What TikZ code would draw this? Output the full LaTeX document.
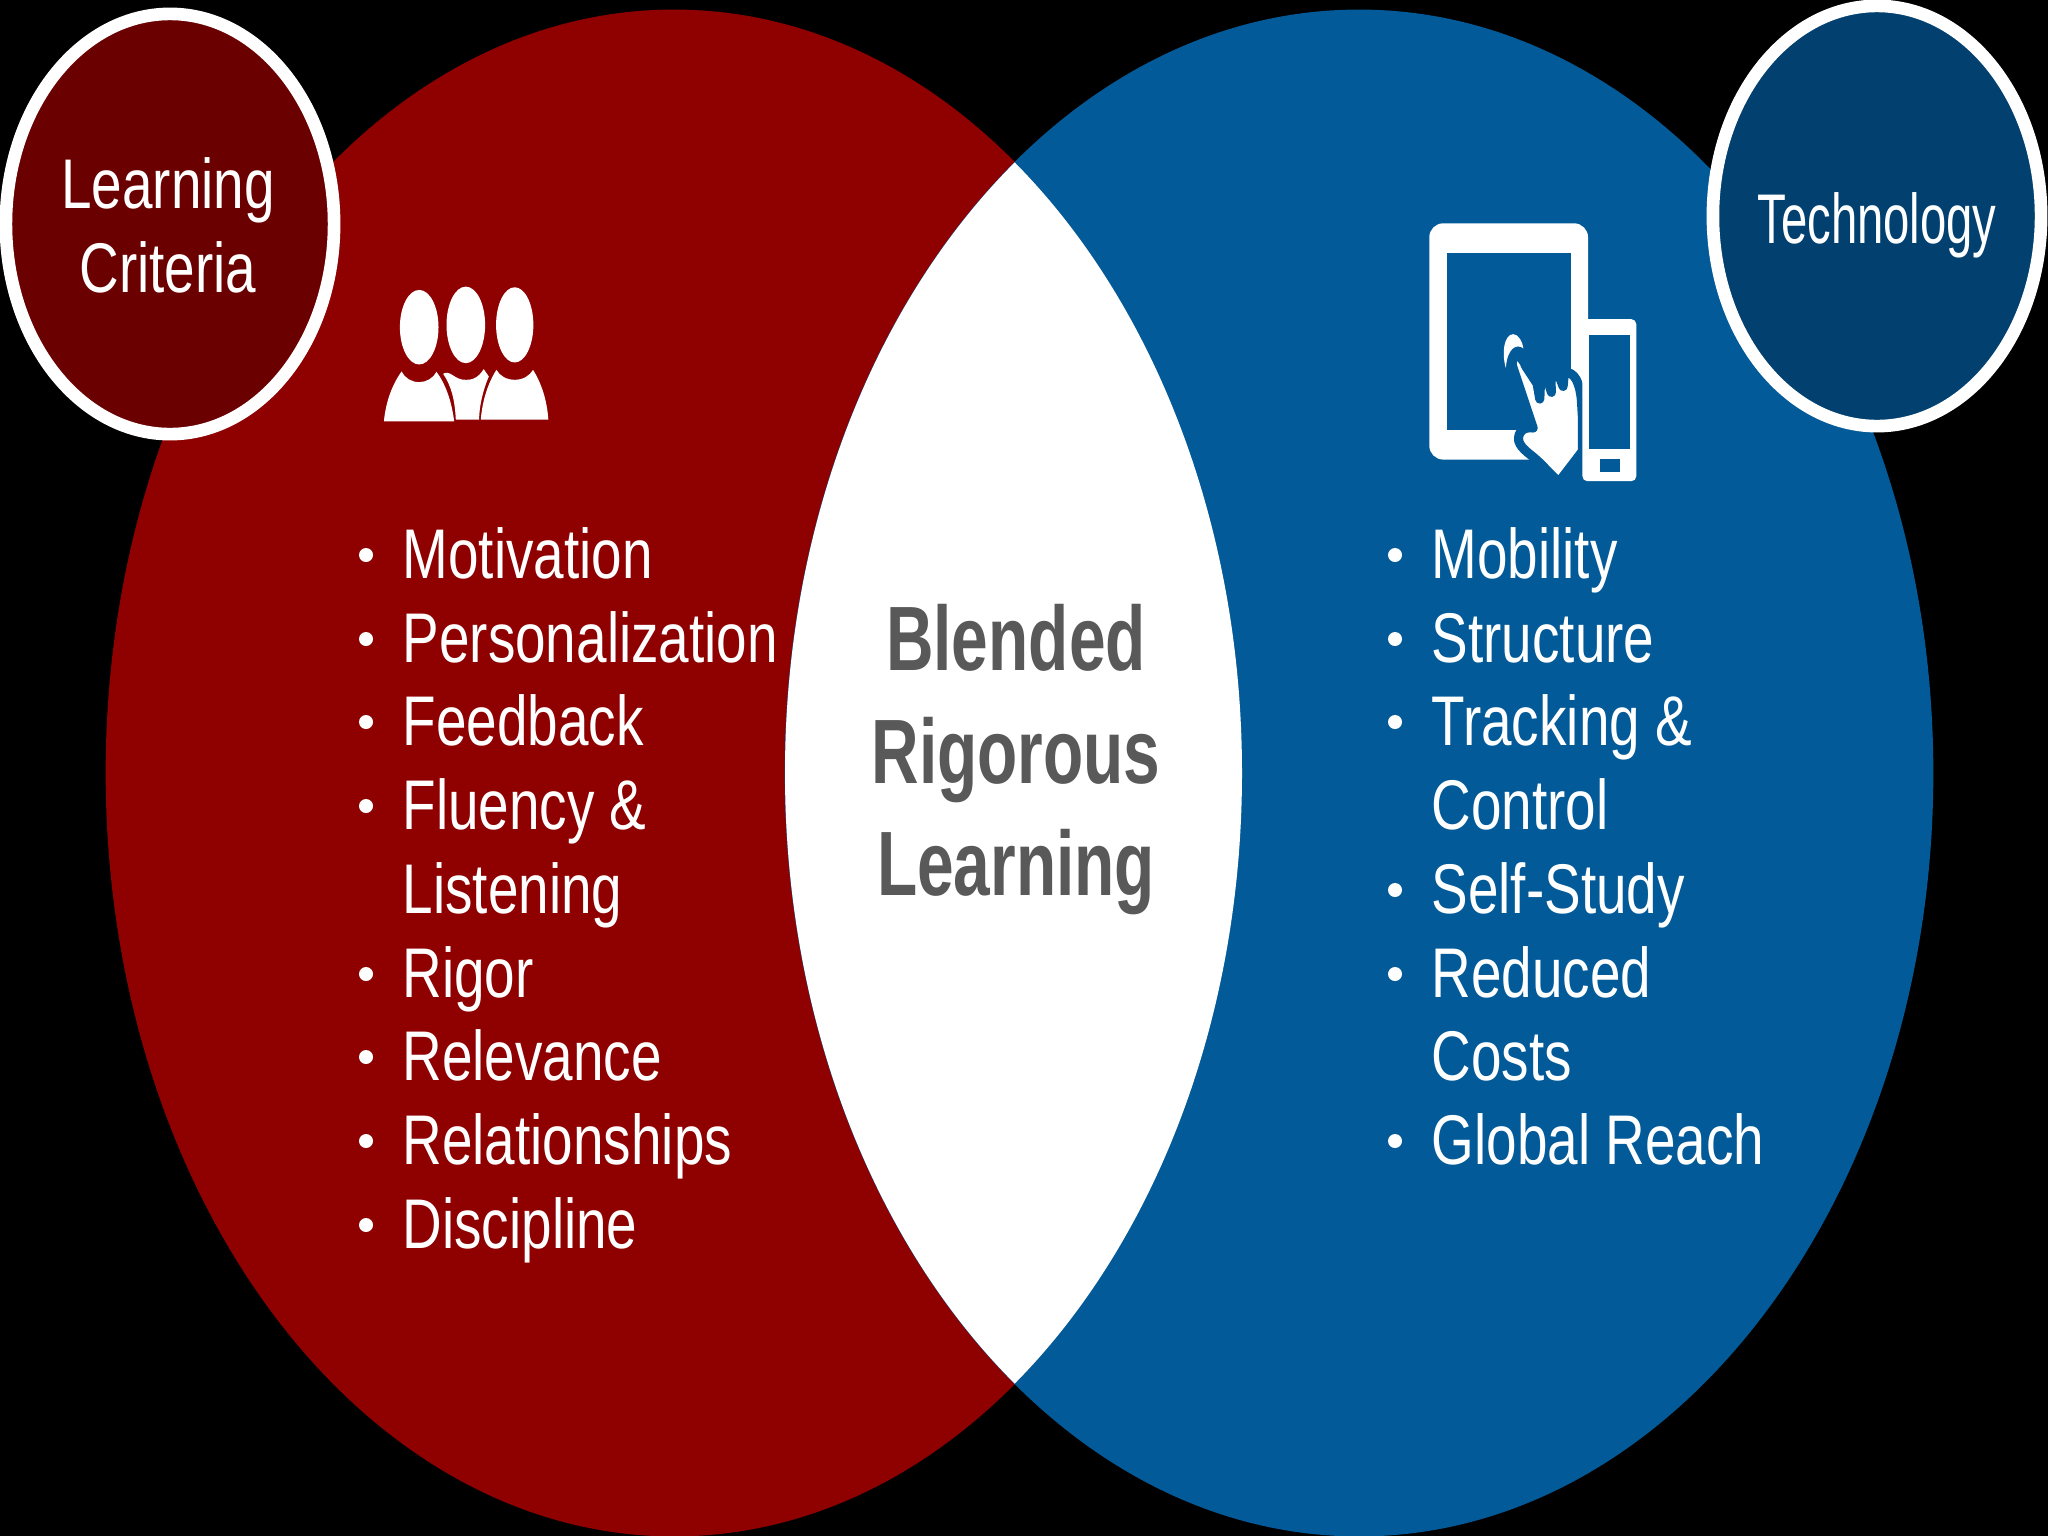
\documentclass[tikz,border=0pt]{standalone}
\usepackage{fontspec}
\setmainfont[FakeStretch=0.78]{Liberation Sans}
\newfontfamily\techfont[FakeStretch=0.672]{Liberation Sans}
\newfontfamily\blendfont[FakeStretch=0.72]{Liberation Sans Bold}
\usetikzlibrary{shapes.geometric}
\definecolor{redmain}{HTML}{8F0000}
\definecolor{bluemain}{HTML}{025A98}
\definecolor{reddark}{HTML}{6B0000}
\definecolor{bluedark}{HTML}{02406F}
\definecolor{graytext}{HTML}{595959}
\tikzset{
  bigell/.style={ellipse,inner sep=0pt,minimum width=11.36cm,minimum height=15.26cm},
  badge/.style={ellipse,inner sep=0pt,draw=white,line width=3.6pt},
  item/.style={anchor=base west,inner sep=0pt,text=white,font=\fontsize{20}{24}\selectfont},
  dot/.style={circle,fill=white,inner sep=0pt,minimum size=0.14cm},
  badgetext/.style={inner sep=0pt,anchor=base,text=white,font=\fontsize{20}{24}\selectfont},
  centertext/.style={inner sep=0pt,anchor=base,text=graytext,font=\blendfont\fontsize{26}{30}\selectfont},
}
\newcommand{\bitem}[4]{%
  \node[dot] (d#1) at (#2,#3-24) {};
  \node[item] (t#1) at (#2+36,#3-1) {#4};}
\begin{document}
\begin{tikzpicture}[x=0.01cm,y=-0.01cm]
\useasboundingbox (0,0) rectangle (2048,1536);
\fill[black] (0,0) rectangle (2048,1536);
% large ellipses
\node[bigell,fill=redmain] (redell) at (674,773) {};
\node[bigell,fill=bluemain,minimum width=11.48cm] (blueell) at (1359,773) {};
\begin{scope}
  \clip (674,773) ellipse [x radius=568,y radius=763];
  \fill[white] (1359,773) ellipse [x radius=574,y radius=763];
\end{scope}
% badges
\node[badge,fill=reddark,minimum width=3.28cm,minimum height=4.2cm] (leftbadge) at (170,224) {};
\node[badge,fill=bluedark,minimum width=3.28cm,minimum height=4.2cm] (rightbadge) at (1877,216) {};
\node[badgetext] (lb1) at (168,208) {Learning};
\node[badgetext] (lb2) at (168,292) {Criteria};
\node[badgetext,font=\techfont\fontsize{20}{24}\selectfont] (rb1) at (1877,243) {Technology};
% people icon
\begin{scope}[shift={(340,250)},x=0.003333cm,y=-0.003333cm]
  \fill[white] (238,232) ellipse [x radius=58,y radius=112];
  \fill[white] (378,225) ellipse [x radius=58,y radius=115];
  \fill[white] (525,225) ellipse [x radius=56,y radius=113];
  % middle body
  \fill[white] (310,372) .. controls (330,358) and (345,392) .. (378,390) .. controls (410,392) and (425,368) .. (432,358)
    -- (447,380) .. controls (430,420) and (418,470) .. (418,510) -- (348,510) .. controls (345,450) and (335,410) .. (310,372) -- cycle;
  % left body
  \fill[white] (132,515) .. controls (138,450) and (160,400) .. (185,365)
    .. controls (195,385) and (215,397) .. (238,397)
    .. controls (260,397) and (280,385) .. (290,366)
    .. controls (315,400) and (335,450) .. (343,515) -- cycle;
  % right body
  \fill[white] (423,510) .. controls (428,450) and (445,400) .. (470,360)
    .. controls (480,378) and (500,390) .. (525,390)
    .. controls (550,390) and (570,378) .. (580,360)
    .. controls (605,400) and (622,450) .. (626,510) -- cycle;
\end{scope}
% device icon
\begin{scope}[shift={(1400,200)},x=0.003333cm,y=-0.003333cm]
  \fill[white,rounded corners=0.14cm] (88,70) rectangle (565,780);
  \fill[bluemain] (140,158) rectangle (513,692);
  % hand with its halo
  \path[fill=white,draw=bluemain,line width=2.6pt,line join=round]
    (350,470) .. controls (365,470) and (372,485) .. (378,500)
    -- (412,552) -- (420,598) -- (422,550) -- (445,545) -- (455,578) -- (453,535) -- (478,528)
    -- (490,560) -- (494,518) .. controls (525,515) and (540,550) .. (545,600)
    -- (548,650) -- (548,755) -- (477,848) -- (420,790)
    .. controls (395,765) and (365,750) .. (357,725)
    .. controls (352,700) and (370,680) .. (400,685)
    -- (340,505) .. controls (332,485) and (340,470) .. (350,470) -- cycle;
  \fill[white] (318,505) .. controls (305,460) and (312,405) .. (340,403)
    .. controls (355,403) and (368,425) .. (371,446)
    .. controls (350,430) and (322,445) .. (318,505) -- cycle;
  % phone
  \fill[white,rounded corners=0.05cm] (548,358) rectangle (710,845);
  \fill[bluemain] (567,405) rectangle (692,747);
  \fill[bluemain] (601,778) rectangle (660,816);
\end{scope}
% left list
\bitem{a}{366}{579}{Motivation}
\bitem{b}{366}{663}{Personalization}
\bitem{c}{366}{746}{Feedback}
\bitem{d}{366}{830}{Fluency \&}
\node[item] (te) at (402,913) {Listening};
\bitem{f}{366}{998}{Rigor}
\bitem{g}{366}{1081}{Relevance}
\bitem{h}{366}{1165}{Relationships}
\bitem{i}{366}{1249}{Discipline}
% right list
\bitem{j}{1395}{579}{Mobility}
\bitem{k}{1395}{663}{Structure}
\bitem{l}{1395}{746}{Tracking \&}
\node[item] (tm) at (1431,829) {Control};
\bitem{n}{1395}{914}{Self-Study}
\bitem{o}{1395}{998}{Reduced}
\node[item] (tp) at (1431,1080) {Costs};
\bitem{q}{1395}{1165}{Global Reach}
% centre
\node[centertext] (c1) at (1016,670) {Blended};
\node[centertext] (c2) at (1016,783) {Rigorous};
\node[centertext] (c3) at (1016,895) {Learning};
\end{tikzpicture}
\end{document}
